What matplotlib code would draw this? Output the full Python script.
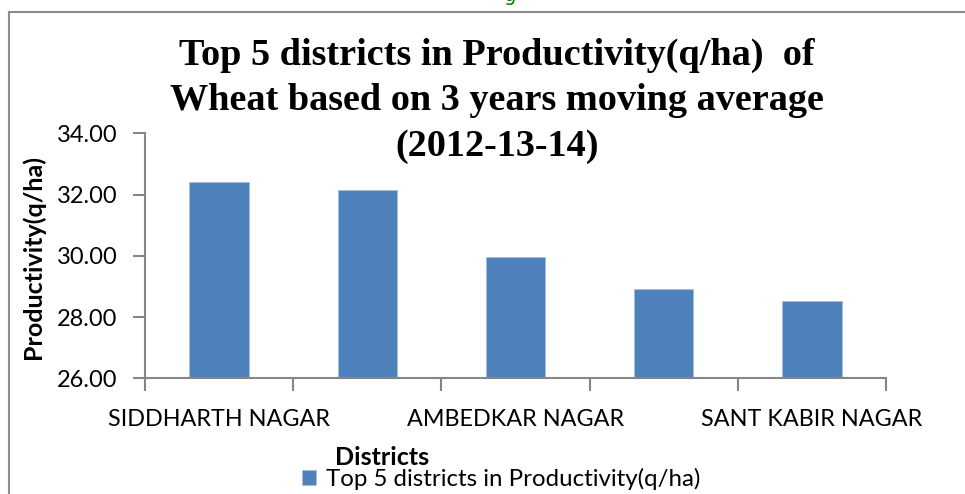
import numpy as np
import matplotlib
matplotlib.use("Agg")
import matplotlib.pyplot as plt
from matplotlib.lines import Line2D

# data (only 1st, 3rd and 5th names are printed on the axis)
districts = ["SIDDHARTH NAGAR", "", "AMBEDKAR NAGAR", "", "SANT KABIR NAGAR"]
productivity = [32.41, 32.15, 29.95, 28.93, 28.52]
y_ticks = [26, 28, 30, 32, 34]

title = "Top 5 districts in Productivity(q/ha)  of\nWheat based on 3 years moving average\n(2012-13-14)"
series_name = "Top 5 districts in Productivity(q/ha)"

bar_color = "#4f81bd"
axis_gray = "#868686"
sans = ["Lato", "DejaVu Sans"]
serif = ["Liberation Serif", "DejaVu Serif"]

W, H = 965, 494
fig = plt.figure(figsize=(W / 100, H / 100), dpi=100)
ax = fig.add_axes([145 / W, 1 - 378.3 / H, (886 - 145) / W, (378.3 - 133.3) / H])

x = np.arange(len(districts))
bars = ax.bar(x, productivity, width=0.4, color=bar_color, edgecolor="#a7c0de",
              linewidth=0.6, label=series_name, zorder=2)

ax.set_ylim(26, 34)
ax.set_xlim(-0.5, len(districts) - 0.5)
ax.set_yticks(y_ticks)
ax.set_yticklabels([f"{v:.2f}" for v in y_ticks], family=sans, fontsize=17)

# category labels at bar centres, tick marks on category boundaries
ax.set_xticks(x)
ax.set_xticklabels(districts, family=sans, fontsize=16.8)
ax.set_xticks(np.arange(len(districts) + 1) - 0.5, minor=True)
ax.tick_params(axis="x", which="major", length=0, pad=22)
ax.tick_params(axis="x", which="minor", length=9, width=1.5, color=axis_gray)
ax.tick_params(axis="y", length=9, width=1.5, color=axis_gray, pad=11)

for side in ["top", "right"]:
    ax.spines[side].set_visible(False)
for side in ["left", "bottom"]:
    ax.spines[side].set_color(axis_gray)
    ax.spines[side].set_linewidth(1.5)

fig.text(33 / W, 1 - 257 / H, "Productivity(q/ha)", rotation=90, ha="center", va="center",
         family=sans, fontsize=18, fontweight="bold")

fig.text(497 / W, 1 - 101 / H, title, ha="center", va="center", family=serif,
         fontsize=27.5, fontweight="bold", linespacing=1.4)

fig.text(382 / W, 1 - 457 / H, "Districts", ha="center", va="center", family=sans,
         fontsize=18, fontweight="bold")

ax.legend(handles=[bars], loc="center", bbox_to_anchor=(501 / W, 1 - 479 / H),
          bbox_transform=fig.transFigure, frameon=False, handlelength=0.6,
          handleheight=0.6, handletextpad=0.4, borderpad=0,
          prop={"family": sans, "size": 17.3})

# outer chart frame (only the left and top edges are in view)
fig.add_artist(Line2D([8.5 / W, 8.5 / W], [0, 1 - 12.5 / H], color="#8c8c8c", lw=1.5))
fig.add_artist(Line2D([8.5 / W, 1], [1 - 12.5 / H, 1 - 12.5 / H], color="#8c8c8c", lw=1.5))

# clipped caption above the chart
fig.text(510 / W, 1 - 1 / H, "g", ha="center", va="baseline", color="#008000", fontsize=14)

fig.savefig("out.png", dpi=100)
